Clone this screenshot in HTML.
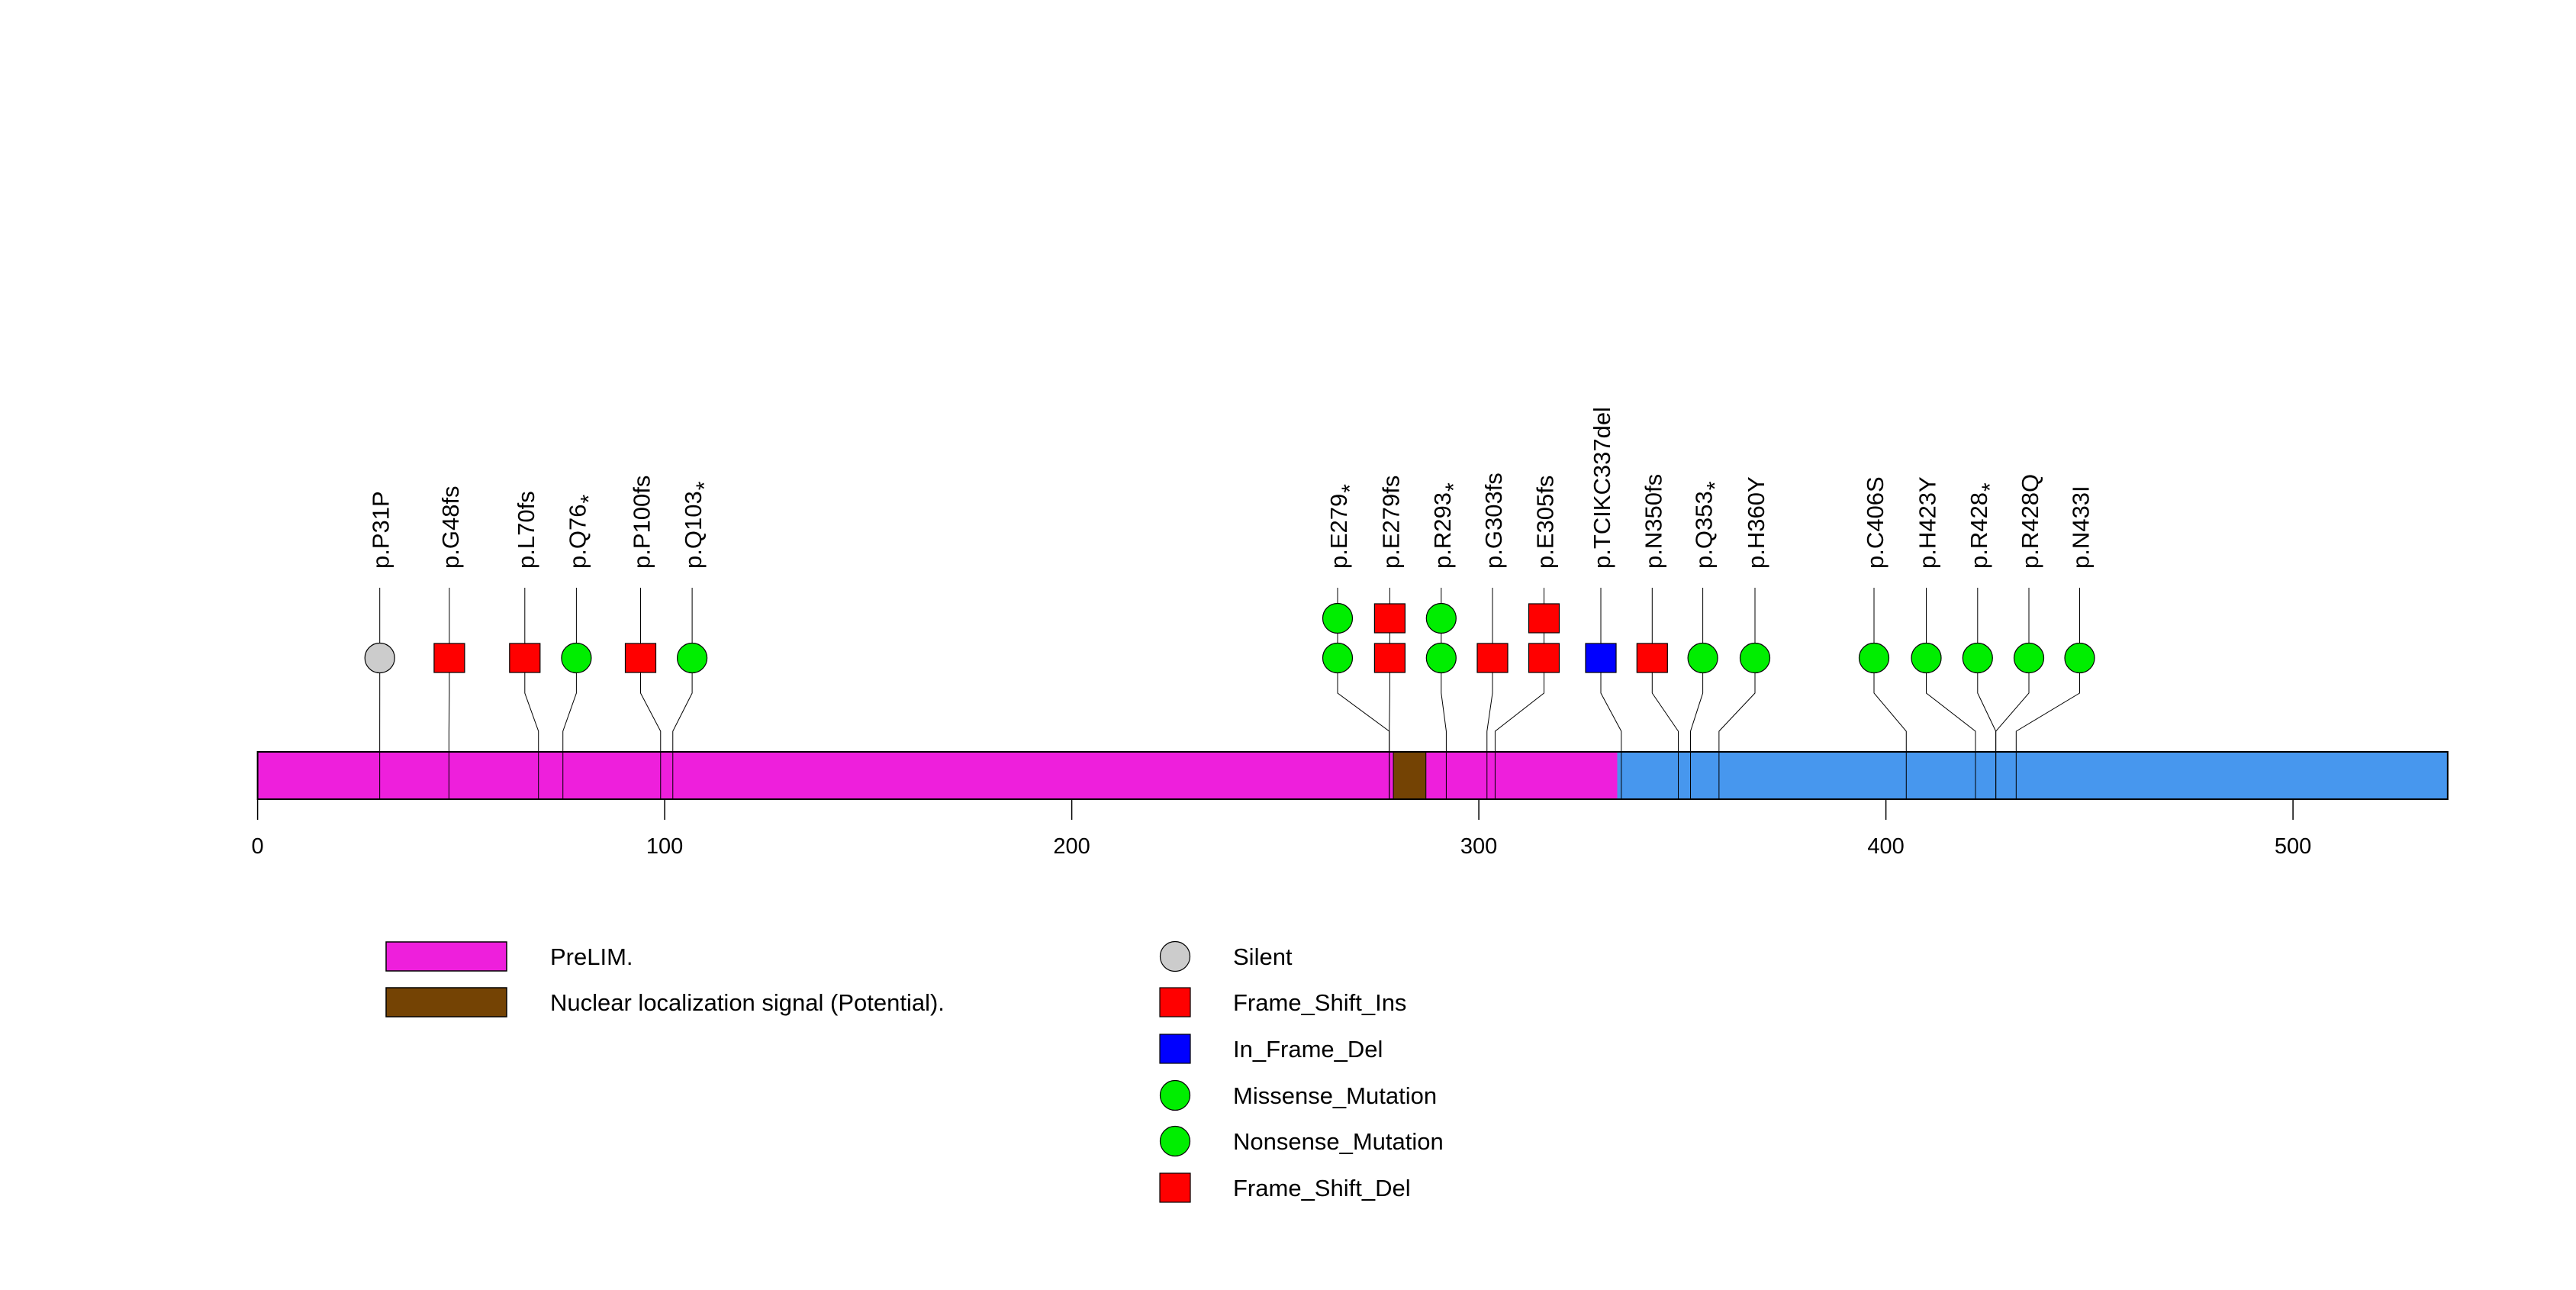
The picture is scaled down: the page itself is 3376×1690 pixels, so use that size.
<!DOCTYPE html>
<html><head><meta charset="utf-8"><style>
html,body{margin:0;padding:0;background:#fff;}
svg{display:block;font-family:"Liberation Sans",Arial,sans-serif;}
</style></head><body>
<svg id="chart" width="3376" height="1690" viewBox="0 0 3376 1690" xmlns="http://www.w3.org/2000/svg">
<g id="domains"></g>
<g id="axis"></g>
<g id="muts"></g>
<g id="legend"></g>
</svg>
<script>
const proteinLength = 538;
const domainNames = ["PreLIM.", "Nuclear localization signal (Potential)."];
const domainStarts = [0, 279];
const domainEnds = [334, 287];
const domainColors = ["#ee1fdc", "#744304"];
const tickValues = [0, 100, 200, 300, 400, 500];
const mutLabels = ["p.P31P","p.G48fs","p.L70fs","p.Q76*","p.P100fs","p.Q103*","p.E279*","p.E279fs","p.R293*","p.G303fs","p.E305fs","p.TCIKC337del","p.N350fs","p.Q353*","p.H360Y","p.C406S","p.H423Y","p.R428*","p.R428Q","p.N433I"];
const mutPositions = [31,48,70,76,100,103,279,279,293,303,305,336,350,353,360,406,423,428,428,433];
const mutCounts = [1,1,1,1,1,1,2,2,2,1,2,1,1,1,1,1,1,1,1,1];
const mutTypes = ["Silent","Frame_Shift_Ins","Frame_Shift_Del","Nonsense_Mutation","Frame_Shift_Del","Nonsense_Mutation","Nonsense_Mutation","Frame_Shift_Del","Nonsense_Mutation","Frame_Shift_Del","Frame_Shift_Del","In_Frame_Del","Frame_Shift_Ins","Nonsense_Mutation","Missense_Mutation","Missense_Mutation","Missense_Mutation","Nonsense_Mutation","Missense_Mutation","Missense_Mutation"];
const legendTypes = ["Silent","Frame_Shift_Ins","In_Frame_Del","Missense_Mutation","Nonsense_Mutation","Frame_Shift_Del"];

const NS="http://www.w3.org/2000/svg";
const X0=337.6, PX=5.335;
const xs=v=>X0+v*PX;
const typeColor={Silent:"#cccccc",Frame_Shift_Ins:"#ff0000",Frame_Shift_Del:"#ff0000",In_Frame_Del:"#0000ff",Missense_Mutation:"#00ee00",Nonsense_Mutation:"#00ee00"};
const typeShape={Silent:"c",Frame_Shift_Ins:"r",Frame_Shift_Del:"r",In_Frame_Del:"r",Missense_Mutation:"c",Nonsense_Mutation:"c"};
function mk(tag,attrs,parent){const e=document.createElementNS(NS,tag);for(const k in attrs)e.setAttribute(k,attrs[k]);parent.appendChild(e);return e;}
const BT=985,BB=1047;
const dG=document.getElementById('domains');
let r=mk('rect',{x:xs(0),y:BT,width:xs(334)-xs(0),height:BB-BT,fill:"#ee1fdc",stroke:"none"},dG);


r=mk('rect',{x:xs(334),y:BT,width:xs(proteinLength)-xs(334),height:BB-BT,fill:"#4797ee",stroke:"none"},dG);


for(let i=0;i<domainNames.length;i++){if(i===0)continue;
 const d=mk('rect',{x:xs(domainStarts[i]),y:BT,width:xs(domainEnds[i])-xs(domainStarts[i]),height:BB-BT,fill:domainColors[i],stroke:"#000","stroke-width":1},dG);
 
 }
r=mk('rect',{x:xs(0),y:BT,width:xs(proteinLength)-xs(0),height:BB-BT,fill:"none",stroke:"#000","stroke-width":2},dG);


const aG=document.getElementById('axis');
tickValues.forEach(v=>{
 const l=mk('line',{x1:xs(v),x2:xs(v),y1:BB,y2:1074,stroke:"#000","stroke-width":1.5},aG);
 
 
 const t=mk('text',{x:xs(v),y:1118,"font-size":29,"text-anchor":"middle"},aG);t.textContent=v;
 
 
});
const mG=document.getElementById('muts');
const mx=[497.7,588.9,687.8,755.4,839.5,907.1,1753,1821.4,1888.8,1956,2023.5,2098,2165.3,2231.6,2300,2456,2524.5,2591.8,2659,2725.5];
const rowY=[862,810];
function marker(type,cx,cy,parent){
 let e;
 if(typeShape[type]==="r") e=mk('rect',{x:cx-20,y:cy-19,width:40,height:38,fill:typeColor[type],stroke:"#000","stroke-width":1.2},parent);
 else e=mk('ellipse',{cx:cx,cy:cy,rx:19.5,ry:19.5,fill:typeColor[type],stroke:"#000","stroke-width":1.2},parent);
 return e;}
mutLabels.forEach((lab,i)=>{
 const px=xs(mutPositions[i]-1), lx=mx[i];
 const g=mk('g',{},mG);
 
 
 mk('polyline',{points:`${lx},770 ${lx},908 ${px},958 ${px},${BB}`,fill:"none",stroke:"#000","stroke-width":1},g);
 for(let k=0;k<mutCounts[i];k++){const m=marker(mutTypes[i],lx,rowY[k],g);
  
  }
 const t=mk('text',{transform:`translate(${lx+12},745) rotate(-90)`,"font-size":31},g);
 
 
 if(lab.endsWith('*')){t.textContent=lab.slice(0,-1);const s=mk('tspan',{"font-size":30,dy:14,dx:1},t);s.textContent='*';}
 else t.textContent=lab;
});
const lG=document.getElementById('legend');
const domY=[1234,1294];
domainNames.forEach((n,i)=>{
 const rr=mk('rect',{x:506,y:domY[i],width:158,height:38,fill:domainColors[i],stroke:"#000","stroke-width":1.5},lG);
 
 
 const t=mk('text',{x:721,y:domY[i]+30,"font-size":31},lG);t.textContent=n;
 
 
});
const legY=[1253,1313,1374,1435,1495,1556];
legendTypes.forEach((ty,i)=>{
 const m=marker(ty,1540,legY[i],lG);
 
 
 const t=mk('text',{x:1616,y:legY[i]+11,"font-size":31},lG);t.textContent=ty;
 
 
});
</script>
</body></html>
